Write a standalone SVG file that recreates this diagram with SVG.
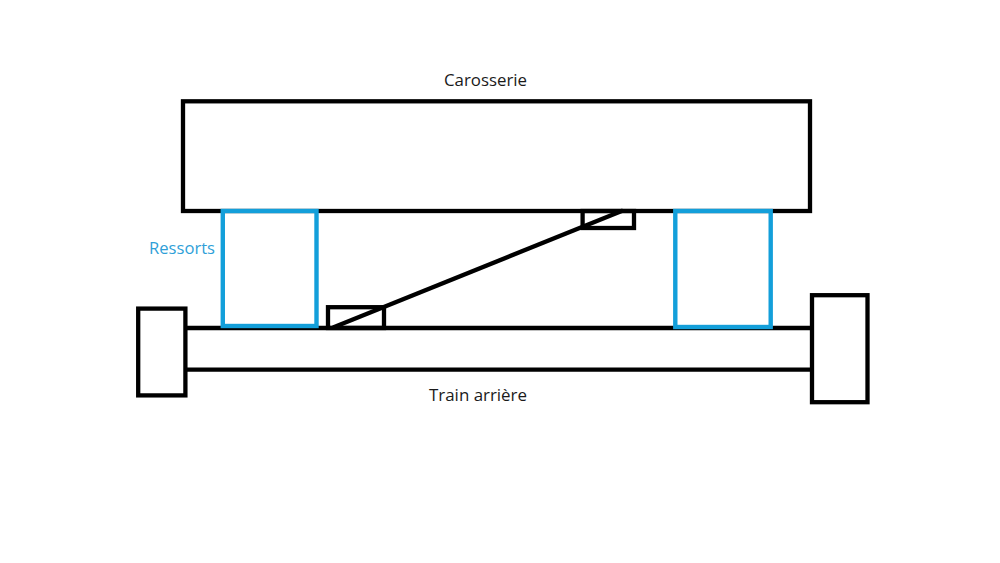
<svg xmlns="http://www.w3.org/2000/svg" width="1000" height="563" viewBox="0 0 1000 563">
<style>
.k{fill:none;stroke:#000;stroke-width:4.3}
.b{fill:none;stroke:#139fda;stroke-width:4.4}
text{font-family:"Open Sans","Noto Sans","Liberation Sans",sans-serif;font-size:16px;fill:#1a1a1a}
</style>
<rect width="1000" height="563" fill="#fff"/>
<g id="carosserie"><rect class="k" x="183" y="101.3" width="627" height="109.7"/></g>
<g id="train-arriere"><path class="k" d="M185 328H812M185 369.7H812"/></g>
<g id="roue-gauche"><rect class="k" x="138.2" y="308.6" width="47.2" height="86.8"/></g>
<g id="roue-droite"><rect class="k" x="812" y="295.2" width="55.5" height="107"/></g>
<g id="attache-basse"><rect class="k" x="328" y="307.2" width="56" height="20.8"/></g>
<g id="attache-haute"><rect class="k" x="582.6" y="211" width="51.4" height="17"/></g>
<g id="connecteurs"><path class="k" d="M333 327.5L623 210.5" stroke-width="4.6"/></g>
<g id="ressort-gauche"><rect class="b" x="222.8" y="211" width="93.7" height="115"/></g>
<g id="ressort-droit"><rect class="b" x="675.3" y="211" width="95.4" height="116"/></g>
<text x="444" y="86" textLength="83" lengthAdjust="spacingAndGlyphs">Carosserie</text>
<text x="149" y="253.5" textLength="66" lengthAdjust="spacingAndGlyphs" style="fill:#2f9fd8">Ressorts</text>
<text x="429" y="401" textLength="98" lengthAdjust="spacingAndGlyphs">Train arrière</text>
</svg>
